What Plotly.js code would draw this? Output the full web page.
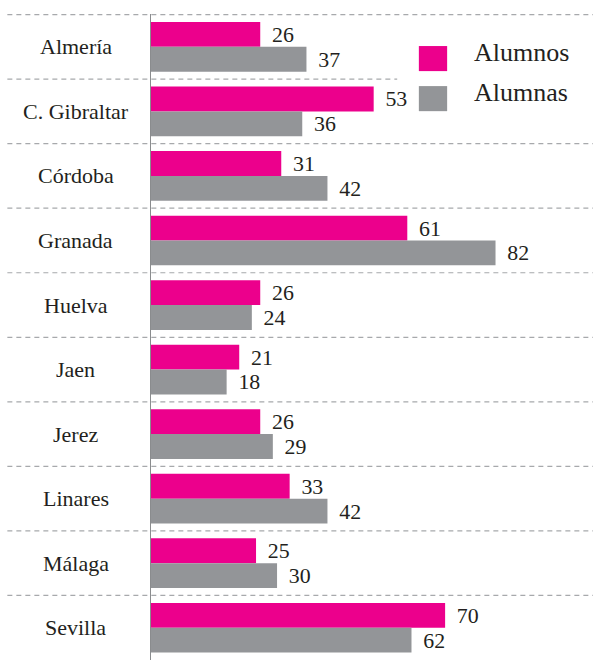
<!DOCTYPE html>
<html>
<head>
<meta charset="utf-8">
<script src="https://cdn.plot.ly/plotly-3.0.1.min.js"></script>
<style>
  html, body { margin: 0; padding: 0; background: #fff; }
  #myDiv { width: 593px; height: 660px; }
</style>
</head>
<body>
<div id="myDiv"></div>
<script>
var ciudades = ["Almería", "C. Gibraltar", "Córdoba", "Granada", "Huelva",
                "Jaen", "Jerez", "Linares", "Málaga", "Sevilla"];
var alumnos = [26, 53, 31, 61, 26, 21, 26, 33, 25, 70];
var alumnas = [37, 36, 42, 82, 24, 18, 29, 42, 30, 62];

var pink = "#ec008c";
var grey = "#939598";
var serif = "Liberation Serif";

function labels(vals) {
  return vals.map(function(v) { return "\u2009\u2009" + v; });
}

var traceAlumnos = {
  y: ciudades,
  x: alumnos,
  name: "Alumnos",
  type: "bar",
  orientation: "h",
  marker: {color: pink},
  text: labels(alumnos),
  textposition: "outside",
  cliponaxis: false,
  textfont: {family: serif, size: 22, color: "#231f20"}
};

var traceAlumnas = {
  y: ciudades,
  x: alumnas,
  name: "Alumnas",
  type: "bar",
  orientation: "h",
  marker: {color: grey},
  text: labels(alumnas),
  textposition: "outside",
  cliponaxis: false,
  textfont: {family: serif, size: 22, color: "#231f20"}
};

// dashed separators between the cities
var shapes = [];
for (var i = 0; i < ciudades.length; i++) {
  shapes.push({
    type: "line", xref: "paper", yref: "y",
    x0: -0.325, x1: i == 1 ? 0.557 : 1,
    y0: i - 0.5, y1: i - 0.5,
    line: {color: "#a7a9ac", width: 1.2, dash: "5px,4px"}
  });
}

// city names centred in the left column
var annotations = ciudades.map(function(c) {
  return {
    text: c, xref: "paper", yref: "y", x: -0.17, y: c,
    xanchor: "center", yanchor: "middle", showarrow: false,
    font: {family: serif, size: 22, color: "#231f20"}
  };
});

// hand-drawn legend
var legendItems = [
  {name: "Alumnos", color: pink, y: 0.931, ty: 0.941},
  {name: "Alumnas", color: grey, y: 0.869, ty: 0.879}
];
legendItems.forEach(function(it) {
  shapes.push({
    type: "rect", xref: "paper", yref: "paper",
    x0: 0.606, x1: 0.670, y0: it.y - 0.0194, y1: it.y + 0.0194,
    fillcolor: it.color, line: {width: 0}
  });
  annotations.push({
    text: it.name, xref: "paper", yref: "paper", x: 0.726, y: it.ty,
    xanchor: "left", yanchor: "middle", showarrow: false,
    font: {family: serif, size: 26, color: "#231f20"}
  });
});

var layout = {
  width: 593,
  height: 660,
  margin: {l: 151, r: 0, t: 14, b: 0},
  paper_bgcolor: "#fff",
  plot_bgcolor: "#fff",
  font: {family: serif},
  barmode: "group",
  bargap: 0.23,
  bargroupgap: 0,
  showlegend: false,
  xaxis: {
    range: [0, 105.2],
    showgrid: false,
    zeroline: false,
    showticklabels: false,
    ticks: ""
  },
  yaxis: {
    autorange: "reversed",
    showticklabels: false,
    ticks: "",
    showgrid: false,
    showline: true,
    linecolor: "#8a8c8e",
    linewidth: 1.5
  },
  shapes: shapes,
  annotations: annotations
};

Plotly.newPlot("myDiv", [traceAlumnos, traceAlumnas], layout, {displayModeBar: false, staticPlot: true});
</script>
</body>
</html>
